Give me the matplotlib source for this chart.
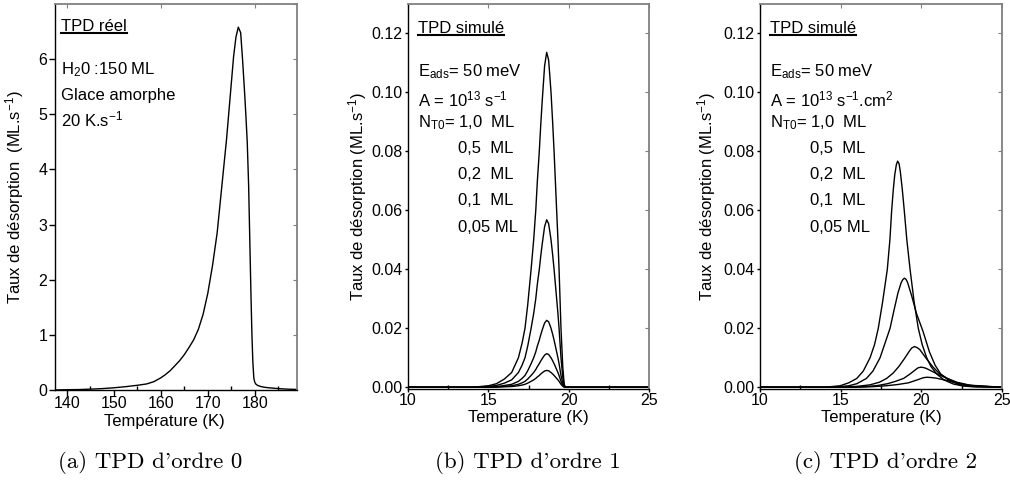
import matplotlib
matplotlib.use("Agg")
import matplotlib.pyplot as plt
from matplotlib.lines import Line2D
from matplotlib.ticker import MultipleLocator, FormatStrFormatter

plt.rcParams['font.family'] = ['Liberation Sans', 'DejaVu Sans']
plt.rcParams['mathtext.fontset'] = 'custom'
plt.rcParams['mathtext.rm'] = 'Liberation Sans'
plt.rcParams['mathtext.it'] = 'Liberation Sans:italic'
plt.rcParams['mathtext.default'] = 'regular'

# (a) TPD reel, ordre 0
temp_a = [137.5, 140, 142.5, 145, 147.5, 150, 152.5, 155, 157, 158.5, 160, 161, 162, 163, 164,
          165, 166, 167, 168, 169, 170, 171, 172, 173, 174, 175, 175.5, 176, 176.5, 177,
          177.4, 177.8, 178.1, 178.4, 178.7, 179.0, 179.2, 179.4, 179.6, 179.8, 180.0,
          180.3, 180.7, 181.2, 182, 183, 185, 187, 189]
rate_a = [0, 0.005, 0.008, 0.015, 0.025, 0.04, 0.06, 0.085, 0.11, 0.15, 0.22, 0.28, 0.35, 0.44, 0.53,
          0.64, 0.77, 0.91, 1.1, 1.37, 1.75, 2.25, 2.85, 3.7, 4.55, 5.55, 6.05, 6.4, 6.58, 6.48,
          6.0, 5.45, 5.0, 4.5, 3.7, 2.5, 1.7, 1.0, 0.5, 0.22, 0.14,
          0.1, 0.08, 0.065, 0.05, 0.04, 0.025, 0.015, 0.01]

# (b) TPD simule, ordre 1 (N_T0 = 1.0, 0.5, 0.2, 0.1, 0.05 ML)
temp_b = [10, 14, 15, 15.5, 16, 16.45, 16.87, 17.1, 17.28, 17.45, 17.66, 17.82, 17.95,
          18.05, 18.17, 18.26, 18.35, 18.5, 18.63, 18.75, 18.82, 18.9, 19.0, 19.09,
          19.17, 19.25, 19.33, 19.4, 19.46, 19.52, 19.63, 19.72, 19.8, 25]
rate_b_10 = [0, 0, 0.0005, 0.0012, 0.0028, 0.005, 0.01, 0.015, 0.02, 0.028, 0.04, 0.05, 0.06,
             0.07, 0.08, 0.089, 0.097, 0.109, 0.1136, 0.111, 0.106, 0.1, 0.09, 0.08,
             0.07, 0.06, 0.05, 0.04, 0.03, 0.02, 0.007, 0.001, 0, 0]
rate_b_05 = [0, 0, 0.0003, 0.0006, 0.0014, 0.0025, 0.005, 0.0075, 0.01, 0.014, 0.02, 0.025, 0.03,
             0.035, 0.04, 0.0445, 0.0485, 0.0545, 0.0568, 0.0555, 0.053, 0.05, 0.045, 0.04,
             0.035, 0.03, 0.025, 0.02, 0.015, 0.01, 0.0035, 0.0005, 0, 0]
rate_b_02 = [0, 0, 0.0001, 0.0002, 0.0006, 0.001, 0.002, 0.003, 0.004, 0.0056, 0.008, 0.01, 0.012,
             0.014, 0.016, 0.0178, 0.0194, 0.0218, 0.0227, 0.0222, 0.0212, 0.02, 0.018, 0.016,
             0.014, 0.012, 0.01, 0.008, 0.006, 0.004, 0.0014, 0.0002, 0, 0]
rate_b_01 = [0, 0, 0.00005, 0.0001, 0.0003, 0.0005, 0.001, 0.0015, 0.002, 0.0028, 0.004, 0.005, 0.006,
             0.007, 0.008, 0.0089, 0.0097, 0.0109, 0.0114, 0.0111, 0.0106, 0.01, 0.009, 0.008,
             0.007, 0.006, 0.005, 0.004, 0.003, 0.002, 0.0007, 0.0001, 0, 0]
rate_b_005 = [0, 0, 0, 0.00005, 0.00015, 0.00025, 0.0005, 0.00075, 0.001, 0.0014, 0.002, 0.0025, 0.003,
              0.0035, 0.004, 0.0045, 0.0049, 0.0055, 0.0057, 0.0056, 0.0053, 0.005, 0.0045, 0.004,
              0.0035, 0.003, 0.0025, 0.002, 0.0015, 0.001, 0.00035, 0.00005, 0, 0]

# (c) TPD simule, ordre 2
temp_c_10 = [10, 14, 14.96, 15.5, 16.0, 16.4, 16.82, 17.1, 17.33, 17.6, 17.89, 18.05, 18.16, 18.26,
             18.35, 18.45, 18.53, 18.62, 18.7, 18.82, 18.94, 19.1, 19.3, 19.55, 19.81, 20.05,
             20.33, 20.6, 20.95, 21.4, 21.98, 22.6, 23.4, 25]
rate_c_10 = [0, 0, 0.0005, 0.0015, 0.003, 0.0055, 0.01, 0.0145, 0.02, 0.029, 0.04, 0.05, 0.06, 0.067,
             0.072, 0.0755, 0.0767, 0.0758, 0.073, 0.067, 0.06, 0.05, 0.04, 0.029, 0.02, 0.0145,
             0.01, 0.007, 0.0045, 0.0025, 0.0011, 0.0004, 0.0001, 0]
temp_c_05 = [10, 14.5, 15.5, 16.0, 16.6, 17.0, 17.44, 17.75, 18.06, 18.3, 18.55, 18.75, 18.85,
             18.95, 19.05, 19.15, 19.4, 19.7, 20.1, 20.5, 20.85, 21.2, 21.7, 22.3, 23.0, 25]
rate_c_05 = [0, 0, 0.0005, 0.0012, 0.003, 0.0055, 0.01, 0.015, 0.02, 0.026, 0.032, 0.0355, 0.0365,
             0.037, 0.0366, 0.0355, 0.031, 0.025, 0.019, 0.012, 0.0075, 0.0045, 0.0024, 0.001, 0.0003, 0]
temp_c_02 = [10, 15, 16.0, 16.8, 17.4, 17.85, 18.25, 18.6, 18.95, 19.25, 19.4, 19.57, 19.72, 19.9,
             20.3, 20.7, 21.1, 21.6, 22.2, 23.0, 25]
rate_c_02 = [0, 0, 0.0003, 0.0008, 0.0017, 0.003, 0.0048, 0.007, 0.0097, 0.0122, 0.0133, 0.0138, 0.0135,
             0.0128, 0.0098, 0.007, 0.0047, 0.003, 0.0015, 0.0005, 0]
temp_c_01 = [10, 15.5, 16.5, 17.3, 17.9, 18.4, 18.9, 19.3, 19.65, 19.8, 19.96, 20.12, 20.3, 20.7,
             21.1, 21.6, 22.2, 23.0, 25]
rate_c_01 = [0, 0, 0.0002, 0.0006, 0.0012, 0.002, 0.003, 0.0045, 0.006, 0.0066, 0.0068, 0.0067, 0.0064,
             0.0053, 0.0042, 0.003, 0.0017, 0.0007, 0]
temp_c_005 = [10, 16, 17, 17.8, 18.5, 19.2, 19.8, 20.1, 20.33, 20.6, 20.9, 21.5, 22.0, 22.6, 23.4, 25]
rate_c_005 = [0, 0, 0.0002, 0.0005, 0.0009, 0.0015, 0.0026, 0.0032, 0.0034, 0.0033, 0.0031, 0.0024,
              0.0017, 0.001, 0.0004, 0]

coverages = ['1,0  ML', '0,5  ML', '0,2  ML', '0,1  ML', '0,05 ML']
captions = ["(a) TPD d'ordre 0", "(b) TPD d'ordre 1", "(c) TPD d'ordre 2"]

fig = plt.figure(figsize=(10.1, 4.87), dpi=100)
ax_a = fig.add_axes([0.0545, 0.1992, 0.2396, 0.7926])
ax_b = fig.add_axes([0.404, 0.2012, 0.2386, 0.7906])
ax_c = fig.add_axes([0.7525, 0.2012, 0.2396, 0.7906])


def style(ax, tick_len):
    for s in ['top', 'right']:
        ax.spines[s].set_color('#808080')
        ax.spines[s].set_linewidth(1.3)
    for s in ['bottom', 'left']:
        ax.spines[s].set_linewidth(1.0)
    ax.tick_params(which='major', direction='out', length=tick_len, width=1, labelsize=11.5,
                   pad=1.5, top=False, right=False)
    ax.tick_params(axis='x', which='major', pad=0.5)
    ax.tick_params(which='minor', direction='in', length=3, width=1, left=False)
    sec_x = ax.secondary_xaxis('top')
    sec_y = ax.secondary_yaxis('right')
    sec_x.tick_params(direction='in', length=3, color='#808080', labeltop=False)
    sec_y.tick_params(direction='in', length=3, color='#808080', labelright=False)
    for sec in (sec_x, sec_y):
        for sp in sec.spines.values():
            sp.set_visible(False)


# panel a
ax_a.plot(temp_a, rate_a, color='black', lw=1.0)
ax_a.set_xlim(137.5, 189)
ax_a.set_ylim(0, 7)
ax_a.set_yticks([0, 1, 2, 3, 4, 5, 6])
ax_a.xaxis.set_major_locator(MultipleLocator(10))
ax_a.xaxis.set_minor_locator(MultipleLocator(5))
ax_a.set_xlabel('Température (K)', fontsize=12)
ax_a.xaxis.set_label_coords(0.45, -0.062)
ax_a.xaxis.label.set_va('top')
ax_a.set_ylabel('Taux de désorption  (ML.s$^{-1}$)', fontsize=12)
ax_a.yaxis.set_label_coords(-0.118, 0.5)
style(ax_a, 4)

# panel b
for r in [rate_b_10, rate_b_05, rate_b_02, rate_b_01, rate_b_005]:
    ax_b.plot(temp_b, r, color='black', lw=1.0)

# panel c
for t, r in [(temp_c_10, rate_c_10), (temp_c_05, rate_c_05), (temp_c_02, rate_c_02),
             (temp_c_01, rate_c_01), (temp_c_005, rate_c_005)]:
    ax_c.plot(t, r, color='black', lw=1.0)

for ax, lx in ((ax_b, -0.16), (ax_c, -0.175)):
    ax.set_xlim(10, 25)
    ax.set_ylim(-0.0006, 0.13)
    ax.xaxis.set_major_locator(MultipleLocator(5))
    ax.xaxis.set_minor_locator(MultipleLocator(2.5))
    ax.yaxis.set_major_locator(MultipleLocator(0.02))
    ax.yaxis.set_major_formatter(FormatStrFormatter('%.2f'))
    ax.set_xlabel('Temperature (K)', fontsize=12)
    ax.xaxis.set_label_coords(0.5, -0.054)
    ax.xaxis.label.set_va('top')
    ax.set_ylabel('Taux de désorption (ML.s$^{-1}$)', fontsize=12)
    ax.yaxis.set_label_coords(lx, 0.5)
    style(ax, 2.5)

# annotations
fs = 12
titles = []
titles.append(ax_a.text(0.025, 0.93, 'TPD réel', transform=ax_a.transAxes, fontsize=fs))
for i, s in enumerate(['H$_2$0 :150 ML', 'Glace amorphe', '20 K.s$^{-1}$']):
    ax_a.text(0.025, 0.818 - i * 0.068, s, transform=ax_a.transAxes, fontsize=fs)

for ax, a_line in [(ax_b, 'A = 10$^{13}$ s$^{-1}$'), (ax_c, 'A = 10$^{13}$ s$^{-1}$.cm$^{2}$')]:
    titles.append(ax.text(0.04, 0.925, 'TPD simulé', transform=ax.transAxes, fontsize=fs))
    ax.text(0.04, 0.813, 'E$_{ads}$= 50 meV', transform=ax.transAxes, fontsize=fs)
    ax.text(0.04, 0.735, a_line, transform=ax.transAxes, fontsize=fs)
    ax.text(0.04, 0.68, 'N$_{T0}$= ' + coverages[0], transform=ax.transAxes, fontsize=fs)
    for i, c in enumerate(coverages[1:]):
        ax.text(0.207, 0.613 - i * 0.068, c, transform=ax.transAxes, fontsize=fs)

# captions
for cx, cap in zip((150, 528, 886), captions):
    fig.text(cx / 1010, 0.05, cap, ha='center', va='center',
             fontsize=16.5, family=['cmr10', 'DejaVu Serif'])

# underline the titles
fig.canvas.draw()
renderer = fig.canvas.get_renderer()
inv = fig.transFigure.inverted()
for t in titles:
    bb = t.get_window_extent(renderer)
    (x0, y0), (x1, _) = inv.transform([(bb.x0, bb.y0 + 1), (bb.x1, bb.y0 + 1)])
    fig.add_artist(Line2D([x0, x1], [y0, y0], color='black', lw=1.5, transform=fig.transFigure))

fig.savefig('out.png', dpi=100)
